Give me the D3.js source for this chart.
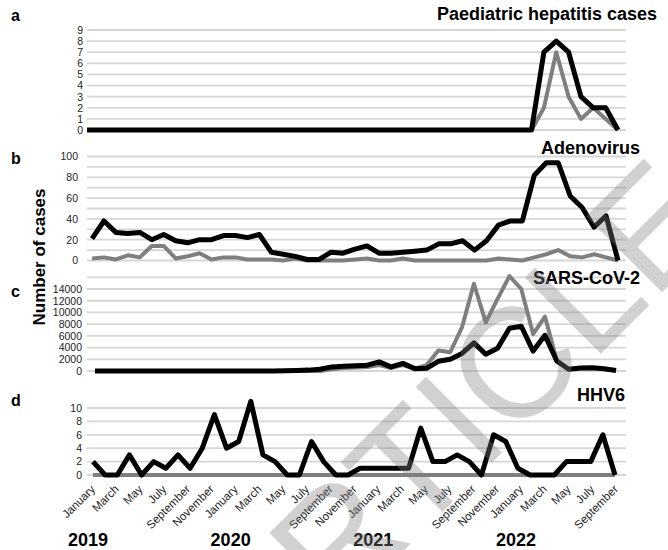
<!DOCTYPE html>
<html>
<head>
<meta charset="utf-8">
<script src="https://cdn.jsdelivr.net/npm/d3@7"></script>
<style>
  html, body { margin: 0; padding: 0; background: #fff; }
  svg { display: block; font-family: "Liberation Sans", Arial, sans-serif; }
</style>
</head>
<body>
<svg id="chart" width="668" height="550"></svg>
<script>
// ---- Category labels -------------------------------------------------------
const monthLabels = [
  "January", "March", "May", "July", "September", "November",
  "January", "March", "May", "July", "September", "November",
  "January", "March", "May", "July", "September", "November",
  "January", "March", "May", "July", "September"
];
const yearLabels = ["2019", "2020", "2021", "2022"];
const yearLabelIndex = [0, 6, 12, 18];   // January label of each year

// ---- Monthly series (from January 2019) -------------------------------------
// a: paediatric hepatitis cases
const hepatitisDark = [
  0,0,0,0,0,0,0,0,0,0,0,0,
  0,0,0,0,0,0,0,0,0,0,0,0,
  0,0,0,0,0,0,0,0,0,0,0,0,
  0,7,8,7,3,2,2,0
];
const hepatitisGrey = [
  0,0,0,0,0,0,0,0,0,0,0,0,
  0,0,0,0,0,0,0,0,0,0,0,0,
  0,0,0,0,0,0,0,0,0,0,0,0,
  0,2,7,3,1,2,1,0
];
// b: adenovirus
const adenoDark = [
  21,38,27,26,27,20,25,19,17,20,20,24,
  24,22,25,8,6,4,1,1,8,7,11,14,
  7,7,8,9,10,16,16,19,10,19,34,38,
  38,82,94,94,62,51,32,43,0
];
const adenoGrey = [
  2,3,1,5,3,14,14,2,4,7,1,3,
  3,1,1,1,0,2,0,0,0,0,1,2,
  0,0,2,0,0,0,0,0,0,0,2,1,
  0,3,6,10,4,3,6,3,0
];
// c: SARS-CoV-2
const sarsDark = [
  0,0,0,0,0,0,0,0,0,0,0,0,
  0,0,0,20,30,80,150,300,700,800,900,1000,
  1550,700,1300,400,450,1650,2000,3000,4800,2850,3900,7300,
  7650,3400,6100,1700,300,500,550,400,100
];
const sarsGrey = [
  0,0,0,0,0,0,0,0,0,0,0,0,
  0,0,0,0,0,0,0,0,300,500,600,700,
  1000,500,1000,400,1000,3500,3200,7500,14900,8300,12300,16200,
  14000,6300,9300,1800,300,450,500,350,100
];
// d: HHV6
const hhv6Dark = [
  2,0,0,3,0,2,1,3,1,4,9,4,
  5,11,3,2,0,0,5,2,0,0,1,1,
  1,1,1,7,2,2,3,2,0,6,5,1,
  0,0,0,2,2,2,6,0
];
const hhv6Grey = [
  0,0,0,0,0,0,0,0,0,0,0,0,
  0,0,0,0,0,0,0,0,0,0,0,0,
  0,0,0,0,0,0,0,0,0,0,0,0,
  0,0,0,0,0,0,0,0
];

// ---- Panel layout ------------------------------------------------------------
const panels = [
  { letter: "a", title: "Paediatric hepatitis cases", titleX: 657, titleY: 20, letterY: 21,
    dark: hepatitisDark, grey: hepatitisGrey,
    yMax: 9, gridStep: 1, labelStep: 1, yRange: [130, 30], xRange: [87, 618], labelX: 83 },
  { letter: "b", title: "Adenovirus", titleX: 640, titleY: 154, letterY: 164,
    dark: adenoDark, grey: adenoGrey,
    yMax: 100, gridStep: 10, labelStep: 20, yRange: [260.5, 156.5], xRange: [92, 618], labelX: 78 },
  { letter: "c", title: "SARS-CoV-2", titleX: 640, titleY: 284, letterY: 297,
    dark: sarsDark, grey: sarsGrey,
    yMax: 16000, gridStep: 2000, labelStep: 2000, labelMax: 14000, yRange: [371, 277.3], xRange: [95, 616], labelX: 82 },
  { letter: "d", title: "HHV6", titleX: 625, titleY: 401, letterY: 406,
    dark: hhv6Dark, grey: hhv6Grey,
    yMax: 10, gridStep: 2, labelStep: 2, yRange: [475, 408], xRange: [93, 615], labelX: 82 }
];

const gridX = [87, 626];
const svg = d3.select("#chart");

panels.forEach(p => {
  const g = svg.append("g");
  const n = p.dark.length;
  const x = d3.scalePoint().domain(d3.range(n)).range(p.xRange);
  const y = d3.scaleLinear().domain([0, p.yMax]).range(p.yRange);

  // horizontal gridlines
  const gridVals = d3.range(0, p.yMax + p.gridStep / 2, p.gridStep);
  g.append("g").selectAll("line").data(gridVals).join("line")
    .attr("x1", gridX[0]).attr("x2", gridX[1])
    .attr("y1", d => y(d)).attr("y2", d => y(d))
    .attr("stroke", "#d6d6d6").attr("stroke-width", 1.8);

  // value axis labels
  const labelMax = p.labelMax !== undefined ? p.labelMax : p.yMax;
  const axis = d3.axisLeft(y)
    .tickValues(d3.range(0, labelMax + p.labelStep / 2, p.labelStep))
    .tickSize(0).tickPadding(0).tickFormat(d3.format("d"));
  const ax = g.append("g").attr("transform", `translate(${p.labelX},0)`).call(axis);
  ax.select(".domain").remove();
  ax.selectAll("text")
    .attr("font-family", "'Liberation Sans', Arial, sans-serif")
    .attr("font-size", 10.5).attr("fill", "#222");

  const line = d3.line().x((d, i) => x(i)).y(d => y(d));

  g.append("path").datum(p.grey).attr("d", line)
    .attr("fill", "none").attr("stroke", "#7f7f7f").attr("stroke-width", 4)
    .attr("stroke-linejoin", "round");
  g.append("path").datum(p.dark).attr("d", line)
    .attr("fill", "none").attr("stroke", "#000").attr("stroke-width", 5)
    .attr("stroke-linejoin", "round");

  // panel title and letter
  svg.append("text").attr("x", p.titleX).attr("y", p.titleY)
    .attr("text-anchor", "end").attr("font-weight", "bold").attr("font-size", 18)
    .text(p.title);
  svg.append("text").attr("x", 11).attr("y", p.letterY)
    .attr("font-weight", "bold").attr("font-size", 16)
    .text(p.letter);
});

// shared value-axis title
svg.append("text")
  .attr("transform", "translate(45,257) rotate(-90)")
  .attr("text-anchor", "middle").attr("font-weight", "bold").attr("font-size", 17)
  .text("Number of cases");

// month labels under the bottom panel
const xLabel = d3.scalePoint().domain(d3.range(monthLabels.length)).range([92, 615]);
svg.append("g").selectAll("text").data(monthLabels).join("text")
  .attr("transform", (d, i) => `translate(${xLabel(i) + 1},${487}) rotate(-45)`)
  .attr("text-anchor", "end").attr("dy", "0.35em")
  .attr("font-size", 11.5).attr("fill", "#222")
  .text(d => d);

// year labels
svg.append("g").selectAll("text").data(yearLabels).join("text")
  .attr("x", (d, i) => xLabel(yearLabelIndex[i]) - 4)
  .attr("y", 546)
  .attr("text-anchor", "middle").attr("font-weight", "bold").attr("font-size", 18)
  .text(d => d);

// diagonal watermark laid over the figure
svg.append("text")
  .attr("transform", "translate(455,420) rotate(-45)")
  .attr("text-anchor", "middle").attr("dy", "0.36em")
  .attr("font-size", 156).attr("fill", "#808080").attr("fill-opacity", 0.36)
  .text("ARTICLE");
</script>
</body>
</html>
